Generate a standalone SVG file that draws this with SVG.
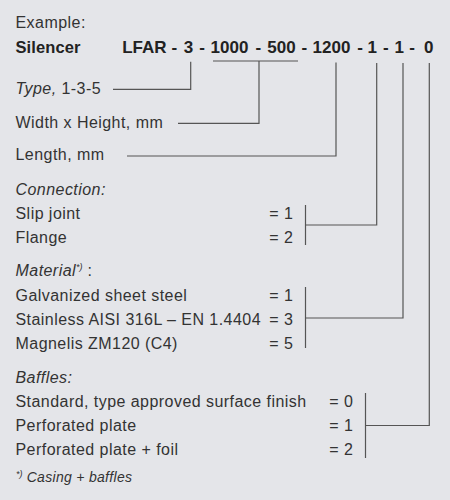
<svg xmlns="http://www.w3.org/2000/svg" width="450" height="500" viewBox="0 0 450 500">
  <style>
    text { font-family: "Liberation Sans", Arial, sans-serif; font-size: 16px; fill: #333; letter-spacing: 0.45px; }
    .b { font-weight: bold; fill: #222; font-size: 16.5px; letter-spacing: 0.1px; }
    .top { font-weight: bold; fill: #222; font-size: 17px; letter-spacing: 0; }
    .i { font-style: italic; }
    .fn { font-size: 14px; font-style: italic; letter-spacing: 0.3px; }
    .sup { font-size: 9px; font-style: italic; letter-spacing: 0; }
    .ln { fill: none; stroke: #555; stroke-width: 1.2; }
  </style>
  <rect x="0" y="0" width="450" height="500" fill="#e4e5e9"/>

  <g id="header">
    <text x="15.5" y="27.5">Example:</text>
    <text class="b" x="15.5" y="53">Silencer</text>
    <text class="top" y="53" text-anchor="middle">
      <tspan x="146.7">LFAR</tspan>
      <tspan x="176.6">-</tspan>
      <tspan x="190.8">3</tspan>
      <tspan x="204.5">-</tspan>
      <tspan x="231.8">1000</tspan>
      <tspan x="260.8">-</tspan>
      <tspan x="283.8">500</tspan>
      <tspan x="306.7">-</tspan>
      <tspan x="333.8">1200</tspan>
      <tspan x="362.5">-</tspan>
      <tspan x="374.6">1</tspan>
      <tspan x="388.3">-</tspan>
      <tspan x="401.6">1</tspan>
      <tspan x="414.5">-</tspan>
      <tspan x="428.7">0</tspan>
    </text>
  </g>

  <g id="type">
    <text x="15.5" y="93.5"><tspan class="i">Type,</tspan> 1-3-5</text>
  </g>
  <g id="width-height">
    <text x="15.5" y="127.7">Width x Height, mm</text>
  </g>
  <g id="length">
    <text x="15.5" y="160">Length, mm</text>
  </g>

  <g id="connection">
    <text class="i" x="15.5" y="195">Connection:</text>
    <text x="15.5" y="219.3">Slip joint</text>
    <text x="269.2" y="219.3">= 1</text>
    <text x="15.5" y="243.3">Flange</text>
    <text x="269.2" y="243.3">= 2</text>
  </g>

  <g id="material">
    <text x="15.5" y="275.5"><tspan class="i">Material</tspan><tspan class="sup" dy="-6">*)</tspan><tspan dy="6"> :</tspan></text>
    <text x="15.5" y="300.7">Galvanized sheet steel</text>
    <text x="269.2" y="300.7">= 1</text>
    <text x="15.5" y="324.8">Stainless AISI 316L – EN 1.4404</text>
    <text x="269.2" y="324.8">= 3</text>
    <text x="15.5" y="348.6">Magnelis ZM120 (C4)</text>
    <text x="269.2" y="348.6">= 5</text>
  </g>

  <g id="baffles">
    <text class="i" x="15.5" y="383.3">Baffles:</text>
    <text x="15.5" y="407.3">Standard, type approved surface finish</text>
    <text x="329.3" y="407.3">= 0</text>
    <text x="15.5" y="431">Perforated plate</text>
    <text x="329.3" y="431">= 1</text>
    <text x="15.5" y="455">Perforated plate + foil</text>
    <text x="329.3" y="455">= 2</text>
  </g>

  <g id="footnote">
    <text x="16" y="481.7"><tspan class="sup" dy="-5">*)</tspan><tspan class="fn" dy="5"> Casing + baffles</tspan></text>
  </g>

  <g id="connectors">
    <polyline class="ln" points="113,89.3 190.7,89.3 190.7,61.7"/>
    <line class="ln" x1="213" y1="61" x2="298" y2="61"/>
    <polyline class="ln" points="178,123.3 259,123.3 259,61"/>
    <polyline class="ln" points="127,156 336,156 336,62.5"/>
    <line class="ln" x1="305.5" y1="205" x2="305.5" y2="245"/>
    <polyline class="ln" points="305.5,225 376.7,225 376.7,63"/>
    <line class="ln" x1="305.5" y1="287" x2="305.5" y2="348"/>
    <polyline class="ln" points="305.5,318 403,318 403,63"/>
    <line class="ln" x1="365.5" y1="393" x2="365.5" y2="458"/>
    <polyline class="ln" points="365.5,425.5 429.3,425.5 429.3,63"/>
  </g>
</svg>
